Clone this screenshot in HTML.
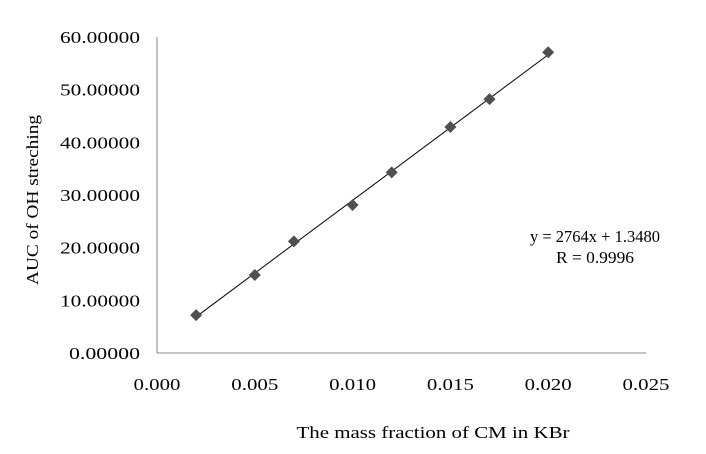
<!DOCTYPE html>
<html><head><meta charset="utf-8"><style>
body{margin:0;background:#fff;}
svg text{font-family:"Liberation Serif",serif;fill:#000;}
</style></head><body>
<svg id="chart" width="706" height="449" xmlns="http://www.w3.org/2000/svg">
<rect width="706" height="449" fill="#fff"/>
<g id="axes"></g>
<g id="marks"></g>
<text x="595" y="242" font-size="17" text-anchor="middle" textLength="130" lengthAdjust="spacingAndGlyphs">y = 2764x + 1.3480</text>
<text x="595" y="263" font-size="17" text-anchor="middle" textLength="78" lengthAdjust="spacingAndGlyphs">R = 0.9996</text>
<text x="433" y="438" font-size="17" text-anchor="middle" textLength="273" lengthAdjust="spacingAndGlyphs">The mass fraction of CM in KBr</text>
<text x="0" y="0" font-size="17" text-anchor="middle" textLength="170" lengthAdjust="spacingAndGlyphs" transform="translate(38,200) rotate(-90)">AUC of OH streching</text>
</svg>
<script>
const xValues=[0.002,0.005,0.007,0.010,0.012,0.015,0.017,0.020];
const yValues=[7.2,14.8,21.2,28.1,34.3,42.9,48.2,57.1];
const xTicks=[0,0.005,0.010,0.015,0.020,0.025];
const yTicks=[0,10,20,30,40,50,60];
const slope=2764, intercept=1.3480;
const X0=157,X1=646,Y0=353,Y1=37;
const sx=v=>X0+(v/0.025)*(X1-X0);
const sy=v=>Y0-(v/60)*(Y0-Y1);
const NS="http://www.w3.org/2000/svg";
const axes=document.getElementById('axes'),marks=document.getElementById('marks');
function mk(tag,attrs,parent){const e=document.createElementNS(NS,tag);for(const k in attrs)e.setAttribute(k,attrs[k]);parent.appendChild(e);return e;}
let e=mk('line',{x1:X0,y1:Y0,x2:X1,y2:Y0,stroke:'#868686','stroke-width':1},axes);


e=mk('line',{x1:X0,y1:Y0,x2:X0,y2:Y1,stroke:'#868686','stroke-width':1},axes);


xTicks.forEach(t=>{const el=mk('text',{x:sx(t),y:390,'font-size':17,'text-anchor':'middle',textLength:47,lengthAdjust:'spacingAndGlyphs'},axes);el.textContent=t.toFixed(3);

});
yTicks.forEach(t=>{const el=mk('text',{x:140,y:sy(t)+6,'font-size':17,'text-anchor':'end',textLength:t>=10?80:71,lengthAdjust:'spacingAndGlyphs'},axes);el.textContent=t.toFixed(5);

});
const xa=Math.min(...xValues),xb=Math.max(...xValues);
e=mk('line',{x1:sx(xa),y1:sy(slope*xa+intercept),x2:sx(xb),y2:sy(slope*xb+intercept),stroke:'#000','stroke-width':1},marks);


xValues.forEach((x,i)=>{const cx=sx(x),cy=sy(yValues[i]);
const p=mk('polygon',{points:`${cx},${cy-6} ${cx+6},${cy} ${cx},${cy+6} ${cx-6},${cy}`,fill:'#505050'},marks);

});
</script>
</body></html>
